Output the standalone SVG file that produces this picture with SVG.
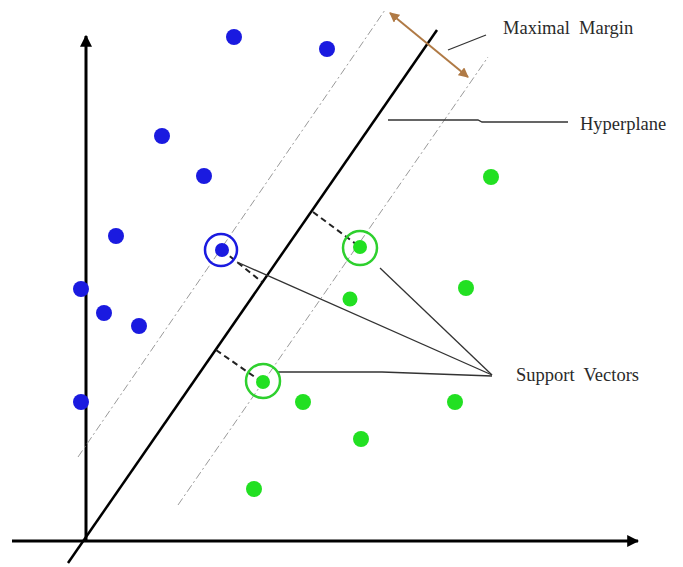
<svg xmlns="http://www.w3.org/2000/svg" width="683" height="567" viewBox="0 0 683 567">
<style>
.axis{stroke:#000;stroke-width:3;fill:none}
.hyper{stroke:#000;stroke-width:2.5;fill:none}
.margin{stroke:#9a9a9a;stroke-width:1;stroke-dasharray:8 3 2 3;fill:none}
.perp{stroke:#222;stroke-width:2;stroke-dasharray:6 4;fill:none}
.lead{stroke:#333;stroke-width:1.3;fill:none}
.blue{fill:#1a1ae0}
.green{fill:#22e022}
.ringb{fill:none;stroke:#1a1ae0;stroke-width:2.5}
.ringg{fill:none;stroke:#2ed02e;stroke-width:2.5}
.lbl{font-family:"Liberation Serif",serif;font-size:18.5px;fill:#2a2a2a;white-space:pre}
</style>
<defs>
<marker id="ah" viewBox="0 0 10 10" refX="9" refY="5" markerWidth="4" markerHeight="4" orient="auto-start-reverse" markerUnits="strokeWidth"><path d="M0,0 L10,5 L0,10 z" fill="#000"/></marker>
<marker id="bh" viewBox="0 0 10 10" refX="9" refY="5" markerWidth="5" markerHeight="5" orient="auto-start-reverse" markerUnits="strokeWidth"><path d="M0,0 L10,5 L0,10 z" fill="#b07a45"/></marker>
</defs>
<g id="connectors">
<line class="axis" x1="86" y1="542" x2="86" y2="36" marker-end="url(#ah)"/>
<line class="axis" x1="12" y1="541" x2="638" y2="541" marker-end="url(#ah)"/>
<line class="hyper" x1="68" y1="563" x2="437" y2="30"/>
<line class="margin" x1="78" y1="457" x2="385" y2="10"/>
<line class="margin" x1="178" y1="505" x2="488" y2="57"/>
<line class="perp" x1="313" y1="212" x2="360" y2="247"/>
<line class="perp" x1="216" y1="350" x2="262" y2="382"/>
<line class="perp" x1="222" y1="250" x2="262" y2="282"/>
<line x1="390" y1="13" x2="468" y2="77" stroke="#b07a45" stroke-width="2" marker-start="url(#bh)" marker-end="url(#bh)"/>
<line class="lead" x1="448" y1="50" x2="486" y2="35"/>
<polyline class="lead" points="388,120 478,120 482,122 568,122"/>
<line class="lead" x1="380" y1="268" x2="492" y2="375"/>
<line class="lead" x1="237" y1="262" x2="492" y2="375"/>
<polyline class="lead" points="278,372 382,372 492,376"/>
</g>
<g id="blue-points">
<circle class="blue" cx="234" cy="37" r="8"/>
<circle class="blue" cx="327" cy="49" r="8"/>
<circle class="blue" cx="162" cy="136" r="8"/>
<circle class="blue" cx="204" cy="176" r="8"/>
<circle class="blue" cx="116" cy="236" r="8"/>
<circle class="blue" cx="81" cy="289" r="8"/>
<circle class="blue" cx="104" cy="313" r="8"/>
<circle class="blue" cx="139" cy="326" r="8"/>
<circle class="blue" cx="81" cy="402" r="8"/>
</g>
<g id="green-points">
<circle class="green" cx="491" cy="177" r="8"/>
<circle class="green" cx="466" cy="288" r="8"/>
<circle class="green" cx="350" cy="299" r="7.5"/>
<circle class="green" cx="303" cy="402" r="8"/>
<circle class="green" cx="455" cy="402" r="8"/>
<circle class="green" cx="361" cy="439" r="8"/>
<circle class="green" cx="254" cy="489" r="8"/>
</g>
<g id="sv-blue">
<circle class="blue" cx="222" cy="250" r="7"/>
<circle class="ringb" cx="221" cy="250" r="16"/>
</g>
<g id="sv-green-1">
<circle class="green" cx="360" cy="247" r="7"/>
<circle class="ringg" cx="360" cy="248" r="17"/>
</g>
<g id="sv-green-2">
<circle class="green" cx="263" cy="382" r="7"/>
<circle class="ringg" cx="263" cy="381" r="17"/>
</g>
<g id="label-margin"><text class="lbl" x="503" y="34">Maximal  Margin</text></g>
<g id="label-hyperplane"><text class="lbl" x="580" y="130">Hyperplane</text></g>
<g id="label-sv"><text class="lbl" x="516" y="381">Support  Vectors</text></g>
</svg>
